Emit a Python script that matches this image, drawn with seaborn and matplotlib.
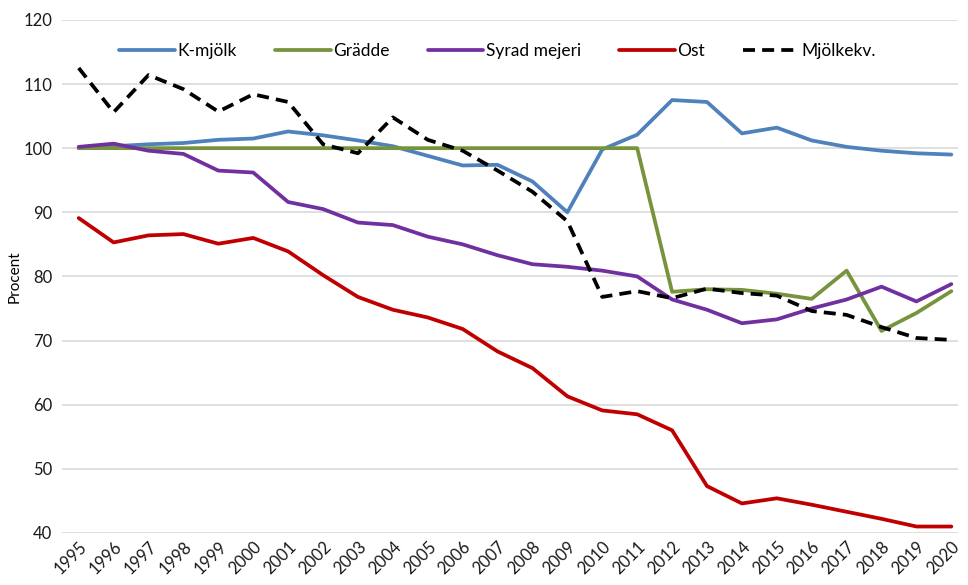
import matplotlib
matplotlib.use("Agg")
import matplotlib.pyplot as plt
import seaborn as sns
import pandas as pd

years = list(range(1995, 2021))
k_mjolk = [100.0, 100.3, 100.6, 100.8, 101.3, 101.5, 102.6, 102.0, 101.2, 100.3, 98.8, 97.3, 97.4,
           94.8, 90.0, 99.8, 102.1, 107.5, 107.2, 102.3, 103.2, 101.2, 100.2, 99.6, 99.2, 99.0]
gradde = [100.0] * 17 + [77.6, 78.0, 77.9, 77.3, 76.5, 80.9, 71.5, 74.3, 77.7]
syrad = [100.2, 100.7, 99.6, 99.1, 96.5, 96.2, 91.6, 90.5, 88.4, 88.0, 86.2, 85.0, 83.3,
         81.9, 81.5, 80.9, 80.0, 76.4, 74.8, 72.7, 73.3, 75.0, 76.4, 78.4, 76.1, 78.8]
ost = [89.1, 85.3, 86.4, 86.6, 85.1, 86.0, 83.9, 80.2, 76.8, 74.8, 73.6, 71.8, 68.3,
       65.7, 61.3, 59.1, 58.5, 56.0, 47.3, 44.6, 45.4, 44.4, 43.3, 42.2, 41.0, 41.0]
mjolkekv = [112.5, 105.6, 111.4, 109.2, 105.7, 108.4, 107.2, 100.6, 99.2, 104.8, 101.3, 99.6, 96.5,
            93.2, 88.6, 76.8, 77.7, 76.6, 78.1, 77.4, 77.0, 74.6, 74.0, 72.1, 70.4, 70.1]

names = ["K-mjölk", "Grädde", "Syrad mejeri", "Ost", "Mjölkekv."]
series = [k_mjolk, gradde, syrad, ost, mjolkekv]
colors = ["#4F81BD", "#77933C", "#7030A0", "#C00000", "#000000"]

rows = []
for n, s in zip(names, series):
    for y, v in zip(years, s):
        rows.append({"År": y, "Procent": v, "Serie": n})
df = pd.DataFrame(rows)

sns.set_theme(style="white")
plt.rcParams['font.family'] = ['Lato', 'DejaVu Sans']

fig = plt.figure(figsize=(9.68, 5.85), dpi=100)
ax = fig.add_axes([0.064, 0.089, 0.926, 0.877])

sns.lineplot(data=df, x="År", y="Procent", hue="Serie", style="Serie",
             palette=dict(zip(names, colors)),
             dashes={"K-mjölk": "", "Grädde": "", "Syrad mejeri": "", "Ost": "",
                     "Mjölkekv.": (3.2, 1.9)},
             linewidth=2.7, ax=ax, legend=True)

ax.set_ylim(40, 120)
ax.set_xlim(1994.52, 2020.2)
ax.set_yticks(range(40, 121, 10))
ax.set_xticks(years)
ax.set_xticklabels([str(y) for y in years], rotation=45, ha="right", rotation_mode="anchor")
ax.tick_params(axis="both", labelsize=12, colors="#1a1a1a", length=0, pad=7)
ax.tick_params(axis="x", pad=4)
ax.yaxis.grid(True, color="#D9D9D9", linewidth=1.2)
ax.xaxis.grid(False)
for sp in ax.spines.values():
    sp.set_visible(False)
ax.set_xlabel("")
ax.set_ylabel("Procent", fontsize=11, color="#000000", labelpad=1)

leg = ax.legend(loc="upper center", bbox_to_anchor=(0.486, 0.985), ncol=5, frameon=False,
                fontsize=12.5, handlelength=3.2, handletextpad=0.15, columnspacing=2.2)
for t in leg.get_texts():
    t.set_color("#000000")

fig.savefig("out.png", dpi=100)
